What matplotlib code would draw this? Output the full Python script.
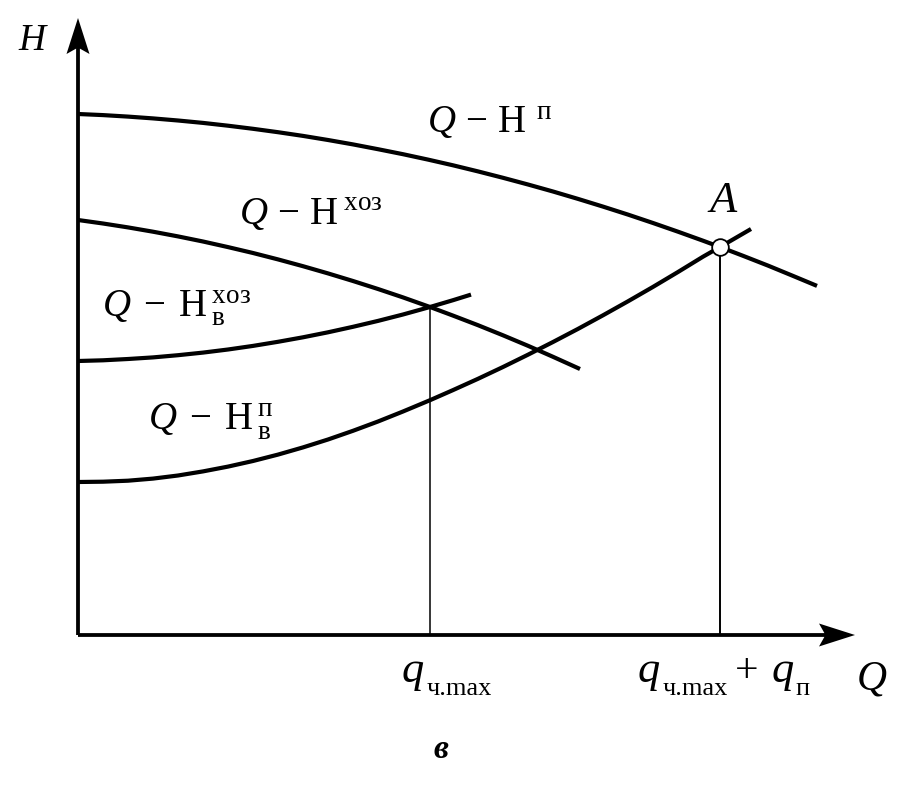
import matplotlib
matplotlib.use('Agg')
import matplotlib.pyplot as plt

# values (Q and H in arbitrary units)
q_max = 3.52      # q ч.max
q_A = 6.42        # q ч.max + q п  (point A)
H_A = 3.88
H_qmax = 3.28

# Q - H^п (pump curve)
Q_p = [0, 0.25, 0.5, 0.75, 1.0, 1.25, 1.5, 1.75, 2.0, 2.25, 2.5, 2.75, 3.0, 3.25, 3.5,
       3.75, 4.0, 4.25, 4.5, 4.75, 5.0, 5.25, 5.5, 5.75, 6.0, 6.25, 6.42, 6.65, 6.9, 7.15, 7.39]
H_p = [5.21, 5.199, 5.184, 5.166, 5.145, 5.121, 5.093, 5.062, 5.028, 4.991, 4.950, 4.906,
       4.858, 4.808, 4.754, 4.697, 4.636, 4.572, 4.505, 4.435, 4.361, 4.284, 4.204, 4.120,
       4.033, 3.943, 3.880, 3.792, 3.694, 3.591, 3.491]

# Q - H^хоз
Q_h = [0, 0.25, 0.5, 0.75, 1.0, 1.25, 1.5, 1.75, 2.0, 2.25, 2.5, 2.75, 3.0, 3.25, 3.52,
       3.75, 4.0, 4.25, 4.5, 4.75, 5.02]
H_h = [4.15, 4.115, 4.076, 4.033, 3.986, 3.935, 3.879, 3.820, 3.756, 3.688, 3.616, 3.540,
       3.460, 3.376, 3.280, 3.194, 3.098, 2.997, 2.892, 2.782, 2.660]

# Q - H_в^хоз
Q_vh = [0, 0.25, 0.5, 0.75, 1.0, 1.25, 1.5, 1.75, 2.0, 2.25, 2.5, 2.75, 3.0, 3.25, 3.52,
        3.75, 3.93]
H_vh = [2.74, 2.747, 2.760, 2.776, 2.798, 2.824, 2.855, 2.891, 2.932, 2.977, 3.027, 3.082,
        3.141, 3.205, 3.280, 3.348, 3.404]

# Q - H_в^п
Q_vp = [0, 0.25, 0.5, 0.75, 1.0, 1.25, 1.5, 1.75, 2.0, 2.25, 2.5, 2.75, 3.0, 3.25, 3.52,
        3.75, 4.0, 4.25, 4.5, 4.75, 5.0, 5.25, 5.5, 5.75, 6.0, 6.25, 6.42, 6.73]
H_vp = [1.53, 1.533, 1.543, 1.564, 1.595, 1.636, 1.684, 1.74, 1.804, 1.876, 1.955, 2.042,
        2.135, 2.235, 2.348, 2.449, 2.562, 2.68, 2.803, 2.93, 3.061, 3.197, 3.337, 3.481,
        3.63, 3.783, 3.88, 4.06]

plt.rcParams['mathtext.fontset'] = 'custom'
plt.rcParams['mathtext.rm'] = 'Liberation Serif'
plt.rcParams['mathtext.it'] = 'Liberation Serif:italic'
plt.rcParams['mathtext.bf'] = 'Liberation Serif:bold'
plt.rcParams['font.family'] = ['Liberation Serif', 'DejaVu Serif']

fig = plt.figure(figsize=(9.02, 7.87), dpi=100)
ax = fig.add_axes([0, 0, 1, 1])
ax.set_xlim(-0.78, 8.24)
ax.set_ylim(-1.52, 6.35)
ax.axis('off')

#axes with arrows
ax.arrow(0, 0, 0, 6.17, width=0.038, head_width=0.23, head_length=0.36,
         length_includes_head=True, overhang=0.15, fc='k', ec='k', lw=0)
ax.arrow(0, 0, 7.77, 0, width=0.038, head_width=0.23, head_length=0.36,
         length_includes_head=True, overhang=0.15, fc='k', ec='k', lw=0)

#curves
lw = 3.0
for q, h in [(Q_p, H_p), (Q_h, H_h), (Q_vh, H_vh), (Q_vp, H_vp)]:
    ax.plot(q, h, color='k', lw=lw, solid_capstyle='butt', solid_joinstyle='round')

#drop lines
ax.plot([q_max, q_max], [0, H_qmax], color='k', lw=1.1)
ax.plot([q_A, q_A], [0, H_A], color='k', lw=1.4)
ax.plot(q_A, H_A, 'o', ms=12, mfc='white', mec='k', mew=1.3, zorder=5)

#curve labels
fs = 28
ax.text(3.49, 5.02, r'$Q\,-\,\mathrm{Н}^{\;\;\mathrm{п}}$', fontsize=fs, va='baseline')
ax.text(1.61, 4.10, r'$Q\,-\,\mathrm{Н}^{\;\mathrm{хоз}}$', fontsize=fs, va='baseline')
ax.text(0.24, 3.18, r'$Q\;-\;{\mathrm{Н}\,}_{\mathrm{в}}^{\mathrm{хоз}}$', fontsize=fs, va='baseline')
ax.text(0.70, 2.05, r'$Q\;-\;{\mathrm{Н}\,}_{\mathrm{в}}^{\mathrm{п}}$', fontsize=fs, va='baseline')
ax.text(6.45, 4.23, 'A', fontsize=32, style='italic', ha='center', va='baseline')

#axis labels
ax.text(-0.46, 5.85, 'H', fontsize=27, style='italic', ha='center', va='baseline')
ax.text(7.79, -0.55, 'Q', fontsize=30, style='italic', va='baseline')

ax.text(3.24, -0.47, 'q', fontsize=32, style='italic', va='baseline')
ax.text(3.49, -0.60, 'ч.max', fontsize=19, va='baseline')
ax.text(5.60, -0.47, 'q', fontsize=32, style='italic', va='baseline')
ax.text(5.85, -0.60, 'ч.max', fontsize=19, va='baseline')
ax.text(6.57, -0.47, '+', fontsize=30, va='baseline')
ax.text(6.94, -0.47, 'q', fontsize=32, style='italic', va='baseline')
ax.text(7.17, -0.60, 'п', fontsize=19, va='baseline')

ax.text(3.63, -1.23, 'в', fontsize=24, style='italic', weight='bold', ha='center', va='baseline')

plt.savefig('out.png', dpi=100)
